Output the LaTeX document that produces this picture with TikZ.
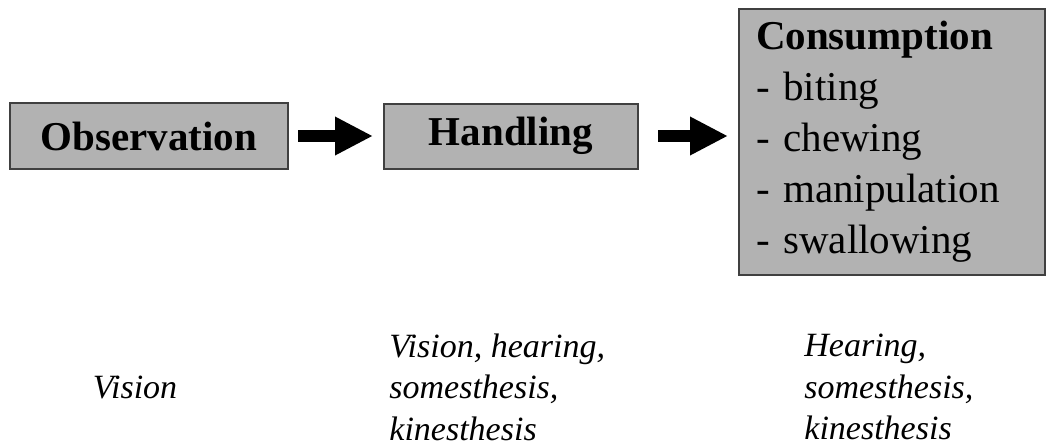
\documentclass[tikz,border=0pt]{standalone}
\usepackage{fontspec}
\setmainfont{Liberation Serif}
\usetikzlibrary{positioning}
\usetikzlibrary{arrows.meta}
\tikzstyle{block} = [rectangle, draw=black!75, line width=1pt, fill=gray!60,
                inner sep=0pt, font=\fontsize{20.5}{25.5}\selectfont]
\tikzstyle{line} = [draw, line width=6pt, -{Triangle[length=19pt,width=18pt]}]
\tikzstyle{sense} = [align=left, inner sep=0pt,
                font=\itshape\fontsize{17}{20.75}\selectfont]

\begin{document}
\begin{tikzpicture}
                \useasboundingbox (0,0) rectangle (524.5pt,-222.5pt);
                \node[block, minimum width=139pt, minimum height=33pt](obs) at (74.5pt,-68pt){\textbf{Observation}};
                \node[block, minimum width=127pt, minimum height=32.5pt, right=47pt of obs](hand){\textbf{Handling}};
                \node[block, text width=136pt, inner xsep=8.5pt, minimum height=133pt, align=left, right=49.5pt of hand, yshift=-3pt](cons){\textbf{Consumption}\\- biting\\- chewing\\- manipulation\\- swallowing};
                \node[sense, anchor=base](vis) at (67.5pt,-199.25pt){Vision};
                \node[sense, anchor=west, xshift=3pt, yshift=5.75pt](hvis) at (hand.west |- vis.base){Vision, hearing,\\somesthesis,\\kinesthesis};
                \node[sense, anchor=west, xshift=33pt, yshift=5.75pt](hear) at (cons.west |- vis.base){Hearing,\\somesthesis,\\kinesthesis};
                \path[line, shorten <=4.5pt, shorten >=5pt] (obs) -- (hand);
                \path[line, shorten <=9.5pt, shorten >=5pt] (hand.east) -- (hand.east -| cons.west);
            \end{tikzpicture}
\end{document}
